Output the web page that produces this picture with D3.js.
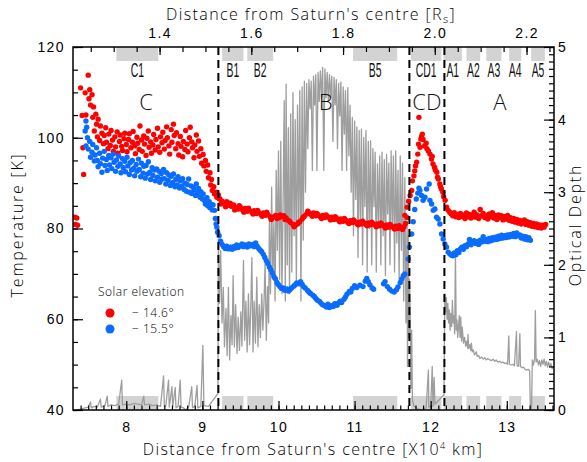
<!DOCTYPE html>
<html>
<head>
<meta charset="utf-8">
<script src="https://cdn.jsdelivr.net/npm/d3@7"></script>
<style>
  html, body { margin: 0; padding: 0; background: #fff; }
  svg { display: block; font-family: "Open Sans", "Liberation Sans", Arial, sans-serif; font-weight: 300; }
</style>
</head>
<body>
<svg id="chart" width="587" height="462"></svg>
<script>
// ---- Data -------------------------------------------------------------
// Distance from Saturn's centre in units of 10^4 km, temperature in K.

// Solar elevation -14.6 deg
const redPoints = [
  [7.32,82.5],[7.35,82.3],[7.33,80.9],[7.36,80.7],
  [7.40,111.0],[7.42,104.9],[7.43,97.8],[7.44,91.9],[7.46,109.9],[7.47,105.0],[7.50,113.8],[7.51,108.6],
  [7.52,110.6],[7.53,107.2],[7.55,109.5],[7.56,104.5],[7.57,106.8],[7.58,101.5],[7.60,105.2],[7.61,103.0],
  [7.62,100.2],[7.63,104.1],[7.65,99.4],[7.66,102.6],
  [7.68,101.0],[7.70,98.7],[7.71,100.5],[7.73,102.2],[7.74,99.0],[7.76,97.6],[7.77,100.8],[7.79,98.3],
  [7.80,101.6],[7.82,99.5],[7.83,97.0],[7.85,100.2],[7.86,98.0],[7.88,101.3],[7.89,96.6],[7.91,99.2],
  [7.92,100.6],[7.94,98.1],[7.95,97.2],[7.97,99.8],[7.98,101.0],[8.00,98.5],[8.01,96.9],[8.03,99.6],[8.04,100.9],
  [8.06,97.8],[8.08,99.0],[8.09,101.4],[8.11,98.2],[8.12,96.5],[8.14,100.1],[8.15,98.8],[8.17,97.4],
  [8.18,102.6],[8.20,99.5],[8.21,97.0],[8.23,100.4],[8.24,98.6],[8.26,96.1],[8.27,99.9],[8.29,101.5],
  [8.30,97.9],[8.32,99.1],[8.33,96.6],[8.35,98.4],[8.36,100.7],[8.38,97.3],[8.39,99.6],[8.41,102.1],
  [8.42,98.0],[8.44,96.8],[8.45,100.2],[8.47,98.9],[8.48,101.2],[8.50,97.5],[8.51,99.4],[8.53,102.4],
  [8.54,100.0],[8.56,98.2],[8.57,96.4],
  [8.59,101.8],[8.60,99.0],[8.62,103.0],[8.63,100.5],[8.65,97.6],[8.66,101.1],[8.68,98.7],[8.69,96.2],
  [8.71,100.3],[8.72,98.1],[8.74,95.8],[8.75,99.2],[8.77,97.4],[8.78,101.6],[8.80,98.6],[8.81,96.9],
  [8.83,100.0],[8.84,102.3],[8.86,99.1],[8.87,97.8],[8.89,95.6],[8.90,98.4],[8.92,100.6],[8.93,97.0],
  [8.95,99.3],[8.96,95.9],[8.98,97.6],[8.99,94.4],[9.01,96.3],[9.02,93.8],[9.04,95.0],
  [9.05,92.6],[9.07,94.0],[9.08,91.2],[9.10,92.3],[9.11,89.6],[9.12,90.8],[9.13,88.4],[9.15,89.2],
  [9.16,87.6],[9.18,88.0],[9.19,86.9],[9.21,87.4],[9.22,86.6],
  [9.23,86.5],[9.26,86.0],[9.29,85.6],[9.32,85.9],[9.35,85.1],[9.38,84.9],[9.41,85.2],[9.44,84.6],
  [9.47,84.3],[9.50,84.7],[9.53,84.1],[9.56,84.4],[9.59,83.8],[9.62,84.0],[9.65,83.6],[9.68,83.9],
  [9.71,83.3],[9.74,83.5],[9.77,83.1],[9.80,83.4],[9.83,82.9],[9.86,83.1],[9.89,82.6],[9.92,82.3],
  [9.95,82.7],[9.98,82.2],[10.01,82.4],[10.04,82.7],[10.07,82.8],[10.10,82.3],[10.13,81.8],[10.16,81.3],
  [10.19,80.9],[10.22,80.7],[10.25,81.0],[10.28,81.5],[10.31,82.1],[10.34,82.7],[10.37,83.2],[10.40,83.5],
  [10.43,83.1],[10.46,83.4],[10.49,82.8],[10.52,83.0],[10.55,82.6],[10.58,82.9],[10.61,82.4],[10.64,82.7],
  [10.67,82.3],[10.70,82.5],[10.73,82.0],[10.76,82.3],[10.79,81.8],[10.82,82.1],[10.85,81.6],[10.88,81.9],
  [10.91,81.4],[10.94,81.7],[10.97,81.3],[11.00,81.6],[11.03,81.1],[11.06,81.4],[11.09,81.0],[11.12,81.3],
  [11.15,80.9],[11.18,81.2],[11.21,80.8],[11.24,81.1],[11.27,80.7],[11.30,81.0],[11.33,80.6],[11.36,80.9],
  [11.39,80.5],[11.42,80.8],[11.45,80.3],[11.48,80.6],[11.51,80.2],[11.54,80.5],[11.57,80.0],[11.60,80.3],
  [11.63,79.8],[11.65,80.4],[11.67,81.1],[11.69,82.4],
  [9.245,85.4],[9.305,84.8],[9.365,85.6],[9.425,84.1],[9.485,85.0],[9.545,83.6],[9.605,84.5],[9.665,83.2],
  [9.725,84.0],[9.785,82.7],[9.845,83.6],[9.905,82.0],[9.965,82.9],[10.025,83.0],[10.085,82.0],[10.145,81.6],
  [10.205,80.4],[10.265,81.4],[10.325,82.5],[10.385,83.8],[10.445,82.7],[10.505,83.3],[10.565,82.2],[10.625,83.0],
  [10.685,81.9],[10.745,82.6],[10.805,81.5],[10.865,82.2],[10.925,81.1],[10.985,81.9],[11.045,80.8],[11.105,81.6],
  [11.165,80.6],[11.225,81.4],[11.285,80.4],[11.345,81.2],[11.405,80.1],[11.465,80.9],[11.525,79.9],[11.585,80.6],
  [11.66,82.9],[11.69,84.7],[11.71,86.0],[11.73,87.3],[11.75,88.4],[11.76,90.5],[11.78,91.6],[11.79,92.7],
  [11.80,93.8],[11.815,94.6],[11.83,96.4],[11.84,98.6],[11.845,104.5],[11.86,97.9],[11.87,99.7],[11.88,100.3],
  [11.89,100.8],[11.90,99.6],[11.92,98.2],[11.94,98.8],[11.95,97.6],[11.97,97.1],[11.99,96.4],[12.01,95.3],
  [12.02,95.9],[12.03,94.2],[12.05,93.5],[12.06,92.9],[12.08,92.4],[12.09,91.3],[12.10,90.9],[12.12,89.8],
  [12.13,89.2],[12.14,88.7],[12.16,88.0],[12.17,87.0],[12.19,86.2],[12.21,84.7],[12.23,84.0],[12.25,83.6],[12.27,83.2],
  [12.29,82.8],[12.31,83.5],[12.33,82.6],[12.35,83.1],[12.37,82.4],[12.39,83.3],[12.41,82.7],[12.43,83.0],
  [12.45,82.2],[12.47,83.4],[12.49,82.6],[12.51,83.1],[12.53,82.3],[12.55,82.9],[12.57,83.6],[12.59,82.5],
  [12.61,83.0],[12.63,82.2],[12.65,84.2],[12.67,82.8],[12.69,83.3],[12.71,82.4],[12.73,82.9],[12.75,82.1],
  [12.77,83.2],[12.79,82.6],[12.81,83.5],[12.83,82.3],[12.85,82.8],[12.87,82.0],[12.89,83.0],[12.91,82.4],
  [12.93,82.8],[12.95,81.9],[12.97,82.6],[12.99,82.1],[13.01,82.9],[13.03,81.8],[13.05,82.4],[13.07,81.6],
  [13.09,82.2],[13.11,81.4],[13.13,82.0],[13.15,81.2],[13.17,81.8],[13.19,81.0],[13.21,81.6],[13.23,81.9],
  [13.25,80.9],[13.27,81.5],[13.29,80.7],[13.31,81.3],[13.33,80.5],[13.35,81.1],[13.37,80.4],[13.39,81.0],
  [13.41,80.2],[13.43,80.8],[13.45,80.1],[13.47,80.7],[13.49,80.3],[13.51,80.9]
];

// Solar elevation -15.5 deg
const bluePoints = [
  [7.47,103.7],[7.46,101.5],[7.48,102.3],[7.49,100.0],[7.47,98.2],[7.50,97.5],[7.52,99.2],[7.53,95.7],
  [7.55,96.8],[7.56,98.5],[7.58,94.9],[7.59,96.2],[7.61,97.8],[7.62,95.0],[7.63,93.6],[7.65,96.6],
  [7.66,94.3],[7.68,92.4],[7.69,95.5],[7.71,97.0],[7.72,93.9],[7.74,95.2],[7.75,92.8],[7.77,96.1],
  [7.78,94.0],[7.80,95.6],[7.81,93.2],[7.83,96.4],[7.84,94.6],[7.86,92.6],[7.87,95.1],[7.89,93.7],
  [7.90,96.0],[7.92,94.2],[7.93,92.3],[7.95,95.4],[7.96,93.4],[7.98,94.8],[7.99,92.5],[8.01,95.7],
  [8.02,93.8],[8.04,91.9],[8.05,94.5],[8.07,92.9],[8.08,95.0],[8.10,93.3],[8.11,91.6],[8.13,94.1],
  [8.14,92.6],[8.16,95.3],[8.17,93.0],[8.19,91.4],[8.20,94.4],[8.22,92.2],[8.23,93.7],[8.25,91.1],
  [8.26,93.9],[8.28,92.0],[8.29,94.7],[8.31,92.4],[8.32,90.8],[8.34,93.4],[8.35,91.7],[8.37,92.9],
  [8.38,90.5],[8.40,93.1],[8.41,91.3],[8.43,92.6],[8.44,90.2],[8.46,92.1],[8.47,90.9],[8.49,93.0],
  [8.50,91.0],[8.52,89.8],[8.53,92.3],[8.55,90.6],[8.56,91.8],[8.58,89.5],[8.59,91.5],[8.61,90.1],
  [8.62,92.0],[8.64,89.2],[8.65,90.8],[8.67,89.6],[8.68,91.4],[8.70,88.9],[8.71,90.5],[8.73,89.3],
  [8.74,91.0],[8.76,88.6],[8.77,90.0],[8.79,88.2],[8.80,89.7],[8.82,90.9],[8.83,88.0],[8.85,89.4],
  [8.86,87.7],[8.88,89.1],[8.89,88.5],[8.91,87.3],[8.92,89.8],[8.94,87.9],[8.95,88.8],[8.97,86.9],
  [8.98,88.1],[9.00,86.5],[9.01,87.6],[9.03,86.1],[9.04,85.4],[9.06,86.8],[9.07,85.0],[9.09,85.9],
  [9.10,84.6],[9.12,85.3],[9.13,84.1],[9.14,85.2],[9.16,84.0],[9.17,82.2],[9.18,81.0],[9.19,80.3],[9.20,79.2],
  [9.22,78.4],[9.24,77.2],[9.26,76.5],[9.28,76.0],[9.30,75.6],[9.32,76.1],[9.34,75.5],[9.37,75.9],
  [9.39,75.4],[9.41,76.0],[9.43,75.7],[9.45,76.4],[9.47,75.8],[9.50,76.2],[9.52,76.6],[9.54,76.0],
  [9.56,76.4],[9.59,75.9],[9.61,76.6],[9.63,76.2],[9.66,76.5],[9.68,76.0],[9.70,76.8],[9.72,76.1],
  [9.74,75.6],[9.76,75.2],[9.78,74.9],[9.80,74.3],[9.82,73.6],[9.84,72.9],[9.86,72.3],[9.88,71.5],
  [9.90,70.9],[9.92,70.2],[9.94,69.4],[9.96,68.9],[9.98,68.1],[10.00,67.6],[10.02,67.2],[10.04,66.8],
  [10.06,66.9],[10.08,66.4],[10.11,66.7],[10.13,66.2],[10.15,66.5],[10.17,66.9],[10.20,67.3],[10.22,67.6],
  [10.24,68.0],[10.27,67.8],[10.29,68.3],[10.31,67.7],[10.33,67.2],[10.35,66.9],[10.38,66.4],[10.40,66.0],
  [10.42,65.7],[10.45,65.3],[10.47,65.0],[10.49,64.6],[10.51,64.2],[10.54,63.9],[10.56,63.5],[10.58,63.2],
  [10.61,63.0],[10.63,62.7],[10.65,63.3],[10.67,62.6],[10.70,63.0],[10.72,62.8],[10.74,63.4],[10.77,63.1],
  [10.79,63.6],[10.81,64.0],[10.83,63.7],[10.86,64.4],[10.88,64.9],[10.90,65.5],[10.93,66.1],[10.95,66.0],
  [10.97,66.8],[11.00,67.4],[11.03,67.0],[11.07,67.5],[11.11,67.2],[11.14,68.4],[11.16,69.0],[11.18,68.3],
  [11.20,67.6],[11.23,66.9],[11.25,66.6],[11.38,67.8],[11.40,68.3],[11.43,67.2],[11.46,66.6],[11.49,66.2],
  [11.52,66.0],[11.55,66.5],[11.57,67.1],[11.60,68.1],[11.62,68.9],[11.64,69.6],[11.66,70.0],
  [11.705,73.3],[11.72,75.9],[11.75,78.8],[11.77,81.5],[11.79,84.2],[11.81,86.5],[11.83,87.8],[11.845,88.9],
  [11.858,88.4],[11.88,87.3],[11.90,86.2],[11.924,86.9],[11.946,88.7],[11.98,89.8],[11.99,86.2],[12.012,85.4],
  [12.033,84.0],[12.055,84.3],[12.077,82.5],[12.098,82.1],[12.121,81.0],[12.143,78.8],[12.164,77.7],[12.186,76.6],
  [12.208,75.9],[12.229,74.8],[12.252,74.4],[12.274,74.1],
  [12.29,74.0],[12.31,74.6],[12.33,74.2],[12.35,75.1],[12.37,74.7],[12.39,75.5],[12.41,75.9],[12.43,75.4],
  [12.45,76.2],[12.47,76.0],[12.49,76.6],[12.51,77.6],[12.53,76.4],[12.55,76.9],[12.57,77.3],[12.59,76.7],
  [12.61,77.1],[12.63,76.5],[12.65,77.4],[12.67,77.0],[12.69,78.2],[12.71,77.2],[12.73,77.6],[12.75,77.1],
  [12.77,77.8],[12.79,77.3],[12.81,78.0],[12.83,77.5],[12.85,78.1],[12.87,77.6],[12.89,78.3],[12.91,77.8],
  [12.93,78.5],[12.95,77.9],[12.97,78.4],[12.99,78.0],[13.01,78.6],[13.03,78.1],[13.05,78.7],[13.07,78.3],
  [13.09,78.9],[13.11,78.2],[13.13,79.0],[13.15,78.4],[13.17,78.6],[13.19,77.9],[13.21,78.3],[13.23,77.7],
  [13.25,78.2],[13.27,77.5],[13.29,78.0],[13.31,77.4]
];

// Ring optical depth profile: [distance, optical depth]
const opticalDepth = [
  [7.36,0.00],[7.42,0.02],[7.46,0.03],[7.50,0.04],[7.53,0.11],[7.54,0.03],[7.58,0.05],[7.62,0.04],
  [7.66,0.15],[7.67,0.04],[7.72,0.06],[7.75,0.19],[7.76,0.05],[7.80,0.07],[7.85,0.06],[7.90,0.08],
  [7.94,0.41],[7.95,0.07],[8.00,0.08],[8.05,0.07],[8.10,0.09],[8.15,0.08],[8.20,0.07],[8.23,0.19],
  [8.24,0.07],[8.30,0.08],[8.35,0.06],[8.40,0.07],[8.45,0.05],[8.49,0.47],[8.50,0.05],[8.52,0.06],
  [8.555,0.41],[8.565,0.04],[8.60,0.32],[8.61,0.04],[8.643,0.31],[8.653,0.03],[8.68,0.05],[8.709,0.41],
  [8.72,0.04],[8.75,0.03],[8.78,0.00],[8.82,0.04],[8.86,0.32],[8.87,0.03],[8.90,0.05],[8.93,0.34],
  [8.94,0.03],[8.98,0.05],[9.006,0.89],[9.02,0.06],[9.08,0.05],[9.205,0.23],
  [9.21,2.35],[9.225,1.47],[9.24,2.2],[9.258,1.2],[9.275,1.69],[9.29,0.87],[9.31,1.4],[9.325,0.75],
  [9.342,1.69],[9.358,0.69],[9.375,1.3],[9.39,0.9],[9.404,1.85],[9.42,0.87],[9.437,1.45],[9.455,0.78],
  [9.47,1.28],[9.487,0.82],[9.505,1.35],[9.52,0.88],[9.54,2.06],[9.555,0.96],[9.572,1.5],[9.588,0.8],
  [9.605,1.6],[9.62,0.9],[9.636,1.4],[9.65,2.1],[9.665,0.8],[9.68,1.5],[9.697,0.92],[9.715,1.83],
  [9.73,0.87],[9.747,1.45],[9.762,1.0],[9.78,1.6],[9.795,1.1],[9.81,1.5],[9.824,2.02],[9.84,0.96],
  [9.856,1.7],[9.87,1.2],[9.88,2.61],
  [9.895,1.6],[9.91,3.07],[9.925,1.8],[9.94,2.6],[9.955,1.5],[9.97,3.3],[9.985,2.2],[10.0,3.57],
  [10.015,1.8],[10.03,3.7],[10.045,1.6],[10.06,2.8],[10.075,4.26],[10.09,1.5],[10.1,4.49],[10.115,2.0],
  [10.13,3.89],[10.145,1.6],
  [10.16,4.08],[10.175,1.9],[10.19,4.37],[10.205,2.4],[10.22,4.0],[10.235,1.7],[10.25,4.2],[10.265,2.6],
  [10.28,4.4],[10.295,1.5],[10.31,4.45],[10.325,2.34],[10.34,4.53],[10.355,3.0],[10.37,4.5],[10.385,3.6],
  [10.40,4.55],[10.415,4.15],[10.43,4.53],[10.445,3.3],[10.46,4.6],[10.475,4.2],[10.49,4.62],[10.505,3.3],
  [10.52,4.65],[10.535,4.25],[10.55,4.67],[10.565,4.3],[10.58,4.72],[10.595,3.3],[10.61,4.7],[10.625,4.3],
  [10.64,4.65],[10.655,4.25],[10.67,4.62],[10.685,4.3],[10.70,4.6],[10.715,3.7],[10.73,4.58],[10.745,4.2],
  [10.76,4.55],[10.775,3.6],[10.79,4.5],[10.805,4.05],[10.82,4.52],[10.835,3.3],[10.85,4.45],[10.865,3.8],
  [10.88,4.4],[10.895,3.3],[10.91,4.44],[10.925,3.5],[10.94,4.2],[10.955,3.0],[10.97,4.03],
  [10.985,2.4],[11.0,3.98],[11.015,2.9],[11.03,3.9],[11.045,2.1],[11.06,3.85],[11.075,2.6],[11.09,3.87],
  [11.105,2.0],[11.12,3.75],[11.135,2.8],[11.15,3.85],[11.165,1.9],[11.18,3.7],[11.195,2.5],[11.21,3.71],
  [11.225,2.0],[11.24,3.6],[11.255,2.8],[11.27,3.55],[11.285,1.9],[11.30,3.39],[11.315,2.6],[11.33,3.5],
  [11.345,2.0],[11.36,3.55],[11.375,2.4],[11.39,3.45],[11.405,1.85],[11.42,3.52],[11.435,2.7],[11.45,3.4],
  [11.465,2.0],[11.48,3.57],[11.495,2.5],[11.51,3.5],[11.525,1.9],[11.54,3.57],[11.555,2.3],[11.57,3.3],
  [11.585,1.8],[11.60,3.5],[11.615,2.2],[11.63,3.4],[11.645,1.5],[11.66,3.2],[11.675,1.2],[11.69,2.6],
  [11.695,0.6],[11.705,2.4],[11.715,1.0],[11.72,1.8],
  [11.73,1.42],[11.74,0.3],[11.75,1.1],[11.76,0.14],[11.78,0.05],[11.80,0.04],[11.82,0.02],[11.85,0.01],
  [11.88,0.00],[11.91,0.02],[11.94,0.03],[11.97,0.55],[11.975,0.04],[12.00,0.05],[12.02,0.60],[12.03,0.05],
  [12.045,0.45],[12.055,0.08],[12.175,0.21],
  [12.185,1.6],[12.195,1.35],[12.205,1.55],[12.215,1.25],[12.225,1.47],[12.235,1.2],[12.245,1.38],[12.255,1.1],
  [12.265,1.33],[12.275,1.15],[12.285,1.51],[12.295,1.2],[12.305,1.3],[12.315,1.05],[12.325,2.2],[12.335,1.1],
  [12.345,1.24],[12.355,1.0],[12.365,1.15],[12.375,1.3],[12.385,1.0],[12.395,1.28],[12.405,0.95],[12.415,1.14],
  [12.43,0.92],[12.445,1.0],[12.46,0.88],[12.475,0.95],[12.485,0.85],[12.49,1.04],[12.50,0.85],[12.515,0.9],
  [12.525,0.82],[12.535,0.92],[12.545,0.8],[12.56,0.83],[12.575,0.76],[12.59,0.78],[12.60,0.8],[12.61,0.74],
  [12.63,0.75],[12.646,0.71],[12.67,0.73],[12.69,0.7],[12.71,0.72],[12.73,0.69],[12.75,0.71],[12.777,0.69],
  [12.80,0.68],[12.82,0.7],[12.84,0.67],[12.86,0.69],[12.88,0.66],[12.908,0.67],[12.93,0.65],[12.95,0.66],
  [12.97,0.64],[12.99,0.65],[13.01,0.63],[13.026,1.02],[13.035,0.63],[13.06,0.62],[13.08,0.63],[13.10,0.61],
  [13.127,1.08],[13.135,0.61],[13.155,0.6],[13.171,1.05],[13.18,0.6],[13.20,0.58],[13.22,0.59],[13.24,0.56],
  [13.258,0.55],[13.28,0.56],[13.30,0.54],[13.31,0.0],[13.325,0.02],[13.335,0.69],[13.35,0.62],[13.365,0.7],
  [13.375,1.37],[13.385,0.66],[13.40,0.7],[13.415,0.62],[13.43,0.68],[13.445,0.6],[13.46,0.69],[13.475,0.63],
  [13.49,0.7],[13.505,0.61],[13.52,0.67],[13.535,0.59],[13.55,0.66],[13.565,0.6],[13.58,0.64],[13.595,0.57],[13.62,0.6]
];

// Ring boundaries (dashed lines)
const ringEdges = [9.21, 11.72, 12.18];

// Main ring names and label positions
const ringNames = ["C", "B", "CD", "A"];
const ringLabelAt = [8.26, 10.62, 11.95, 12.91];

// Sampled features (grey bars at top and bottom)
const featureNames = ["C1", "B1", "B2", "B5", "CD1", "A1", "A2", "A3", "A4", "A5"];
const featureStart = [7.87, 9.26, 9.59, 10.98, 11.74, 12.17, 12.47, 12.73, 13.03, 13.32];
const featureEnd   = [8.42, 9.54, 9.93, 11.56, 12.14, 12.41, 12.65, 12.93, 13.19, 13.50];

// Axis ticks
const distanceTicks = [8, 9, 10, 11, 12, 13];
const radiusTicks = [1.4, 1.6, 1.8, 2.0, 2.2];
const temperatureTicks = [40, 60, 80, 100, 120];
const depthTicks = [0, 1, 2, 3, 4, 5];

// Legend
const legendLabels = ["\u2212 14.6\u00b0", "\u2212 15.5\u00b0"];
const legendColors = ["#ff0000", "#0a6cff"];

const SATURN_RADIUS = 6.0268; // 10^4 km

// ---- Layout -----------------------------------------------------------
const svg = d3.select("#chart");
const plot = { left: 73, right: 554, top: 47, bottom: 410 };

const x = d3.scaleLinear().domain([7.3, 13.62]).range([plot.left, plot.right]);
const xRs = d3.scaleLinear()
  .domain([7.3 / SATURN_RADIUS, 13.62 / SATURN_RADIUS])
  .range([plot.left, plot.right]);
const yT = d3.scaleLinear().domain([40, 120]).range([plot.bottom, plot.top]);
const yTau = d3.scaleLinear().domain([0, 5]).range([plot.bottom, plot.top]);

svg.append("defs").append("clipPath").attr("id", "plotClip")
  .append("rect")
  .attr("x", plot.left).attr("y", plot.top)
  .attr("width", plot.right - plot.left).attr("height", plot.bottom - plot.top);

const features = featureNames.map((n, i) => ({ name: n, start: featureStart[i], end: featureEnd[i] }));

// Grey feature bars along top and bottom
const barH = 14;
const bars = svg.append("g").attr("fill", "#d3d3d3");
bars.selectAll("rect.top").data(features).join("rect")
  .attr("class", "top")
  .attr("x", d => x(d.start)).attr("width", d => x(d.end) - x(d.start))
  .attr("y", plot.top).attr("height", barH);
bars.selectAll("rect.bot").data(features).join("rect")
  .attr("class", "bot")
  .attr("x", d => x(d.start)).attr("width", d => x(d.end) - x(d.start))
  .attr("y", plot.bottom - barH).attr("height", barH);

// Feature names under the top bars (condensed lettering)
svg.append("g").selectAll("text").data(features).join("text")
  .attr("transform", d => `translate(${(x(d.start) + x(d.end)) / 2},77) scale(0.52,1)`)
  .attr("text-anchor", "middle")
  .attr("font-family", "Liberation Sans, Arial, sans-serif")
  .attr("font-weight", 400)
  .attr("font-size", 20)
  .attr("fill", "#111")
  .text(d => d.name);

// Optical depth profile
svg.append("path")
  .datum(opticalDepth)
  .attr("clip-path", "url(#plotClip)")
  .attr("fill", "none")
  .attr("stroke", "#9e9e9e")
  .attr("stroke-width", 1.3)
  .attr("stroke-linejoin", "round")
  .attr("d", d3.line().x(d => x(d[0])).y(d => yTau(d[1])));

// Temperature points
const dots = svg.append("g").attr("clip-path", "url(#plotClip)");
dots.selectAll("circle.red").data(redPoints).join("circle")
  .attr("class", "red")
  .attr("cx", d => x(d[0])).attr("cy", d => yT(d[1])).attr("r", 2.7)
  .attr("fill", legendColors[0]);
dots.selectAll("circle.blue").data(bluePoints).join("circle")
  .attr("class", "blue")
  .attr("cx", d => x(d[0])).attr("cy", d => yT(d[1])).attr("r", 2.7)
  .attr("fill", legendColors[1]);

// Ring boundaries
svg.append("g").selectAll("line").data(ringEdges).join("line")
  .attr("x1", d => x(d)).attr("x2", d => x(d))
  .attr("y1", plot.top).attr("y2", plot.bottom)
  .attr("stroke", "#000").attr("stroke-width", 2)
  .attr("stroke-dasharray", "8,5");

// Ring names
svg.append("g").selectAll("text").data(ringNames).join("text")
  .attr("x", (d, i) => x(ringLabelAt[i]))
  .attr("y", 110)
  .attr("text-anchor", "middle")
  .attr("font-size", 22)
  .attr("fill", "#111")
  .text(d => d);

// ---- Axes -------------------------------------------------------------
const tickFont = 14;
function styleAxis(g) {
  g.select(".domain").remove();
  g.selectAll("line").attr("stroke", "#000").attr("stroke-width", 1.2);
  g.selectAll("text").attr("font-size", tickFont).attr("fill", "#000")
    .attr("font-family", null).attr("letter-spacing", 1.4);
}

const range = (a, b, s) => d3.range(Math.round(a / s), Math.round(b / s) + 1).map(k => +(k * s).toFixed(4));

// bottom
svg.append("g").attr("transform", `translate(0,${plot.bottom})`)
  .call(d3.axisBottom(x).tickValues(range(7.4, 13.6, 0.1)).tickSize(-4.5).tickFormat(""))
  .call(styleAxis);
svg.append("g").attr("transform", `translate(0,${plot.bottom})`)
  .call(d3.axisBottom(x).tickValues(distanceTicks).tickSize(-9).tickPadding(12).tickFormat(d3.format("d")))
  .call(styleAxis);

// top (Saturn radii)
svg.append("g").attr("transform", `translate(0,${plot.top})`)
  .call(d3.axisTop(xRs).tickValues(range(1.25, 2.25, 0.05)).tickSize(-5).tickFormat(""))
  .call(styleAxis);
svg.append("g").attr("transform", `translate(0,${plot.top})`)
  .call(d3.axisTop(xRs).tickValues(radiusTicks).tickSize(-8).tickPadding(9).tickFormat(d3.format(".1f")))
  .call(styleAxis);

// left (temperature)
svg.append("g").attr("transform", `translate(${plot.left},0)`)
  .call(d3.axisLeft(yT).tickValues(range(40, 120, 5)).tickSize(-5).tickFormat(""))
  .call(styleAxis);
svg.append("g").attr("transform", `translate(${plot.left},0)`)
  .call(d3.axisLeft(yT).tickValues(temperatureTicks).tickSize(-10).tickPadding(8).tickFormat(d3.format("d")))
  .call(styleAxis);

// right (optical depth)
svg.append("g").attr("transform", `translate(${plot.right},0)`)
  .call(d3.axisRight(yTau).tickValues(range(0, 5, 0.1)).tickSize(-5).tickFormat(""))
  .call(styleAxis);
svg.append("g").attr("transform", `translate(${plot.right},0)`)
  .call(d3.axisRight(yTau).tickValues(depthTicks).tickSize(-10).tickPadding(4).tickFormat(d3.format("d")))
  .call(styleAxis);

// frame
svg.append("rect")
  .attr("x", plot.left).attr("y", plot.top)
  .attr("width", plot.right - plot.left).attr("height", plot.bottom - plot.top)
  .attr("fill", "none").attr("stroke", "#000").attr("stroke-width", 1.5);

// Axis titles
const titleFont = 16;
const bottomTitle = svg.append("text")
  .attr("x", 313).attr("y", 455)
  .attr("text-anchor", "middle").attr("font-size", titleFont).attr("letter-spacing", 1.4)
  .text("Distance from Saturn's centre [X10");
bottomTitle.append("tspan").attr("dy", -6).attr("font-size", 9).text("4");
bottomTitle.append("tspan").attr("dy", 6).text(" km]");

const topTitle = svg.append("text")
  .attr("x", 311).attr("y", 20)
  .attr("text-anchor", "middle").attr("font-size", titleFont).attr("letter-spacing", 1.4)
  .text("Distance from Saturn's centre [R");
topTitle.append("tspan").attr("dy", 3).attr("font-size", 11).text("s");
topTitle.append("tspan").attr("dy", -3).text("]");

svg.append("text")
  .attr("transform", "translate(23,225) rotate(-90)")
  .attr("text-anchor", "middle").attr("font-size", titleFont).attr("letter-spacing", 1.8)
  .text("Temperature [K]");

svg.append("text")
  .attr("transform", "translate(581,225) rotate(-90)")
  .attr("text-anchor", "middle").attr("font-size", titleFont).attr("letter-spacing", 1.8)
  .text("Optical Depth");

// Legend
const legend = svg.append("g");
legend.append("text").attr("x", 98).attr("y", 296)
  .attr("font-size", 12).attr("letter-spacing", 0.5).text("Solar elevation");
legendLabels.forEach((lab, i) => {
  legend.append("circle").attr("cx", 110).attr("cy", 313 + i * 16).attr("r", 4.5).attr("fill", legendColors[i]);
  legend.append("text").attr("x", 132).attr("y", 317 + i * 16)
    .attr("font-size", 12).attr("letter-spacing", 0.5).text(lab);
});
</script>
</body>
</html>
